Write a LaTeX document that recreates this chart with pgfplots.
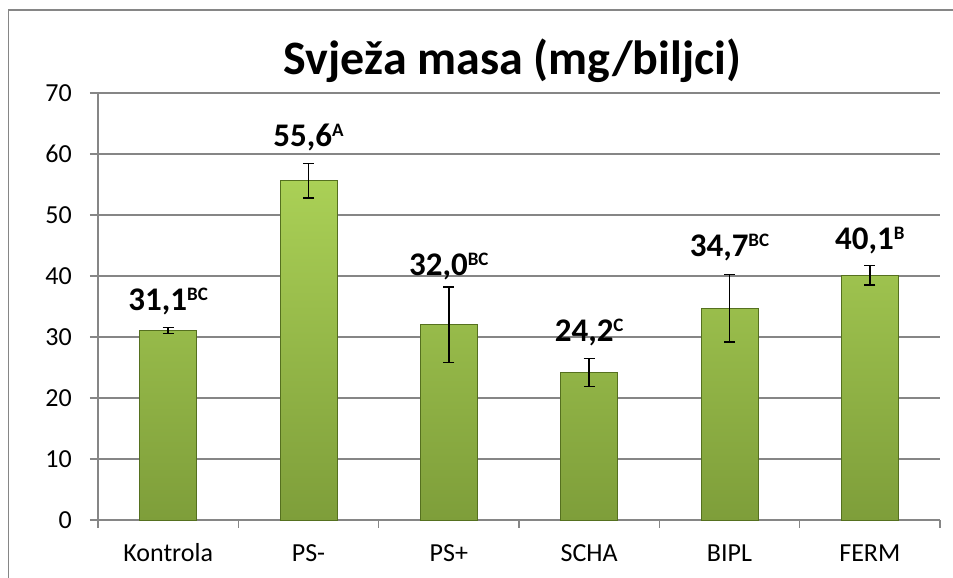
\documentclass[border=0pt]{standalone}
\usepackage{pgfplots}
\pgfplotsset{compat=1.18}
\usepackage{fontspec}
\setmainfont{Carlito}
\definecolor{gridgray}{HTML}{868686}
\definecolor{bartop}{HTML}{AAD056}
\definecolor{barbot}{HTML}{7E9E3A}
\definecolor{baredge}{HTML}{55701F}
\newcommand{\lab}[2]{\fontsize{33bp}{35bp}\selectfont\bfseries #1\raisebox{10bp}{\fontsize{19bp}{20bp}\selectfont\bfseries #2}}
\begin{document}
\begin{tikzpicture}[x=1bp,y=1bp]
\useasboundingbox (0,0) rectangle (953,578);
\draw[gridgray, line width=1.3bp] (8.5,-5) -- (8.5,568) -- (960,568);
\node[anchor=base, font=\fontsize{48bp}{52bp}\selectfont\bfseries] at (512.5,503) {Svježa masa (mg/biljci)};
\begin{axis}[
  at={(98bp,58bp)}, anchor=south west,
  width=842bp, height=427bp, scale only axis,
  xmin=-0.5, xmax=5.5, ymin=0, ymax=70,
  axis x line=bottom, axis y line=left,
  axis line style={-, gridgray, line width=1.3bp},
  ytick={0,10,...,70},
  ymajorgrids, major grid style={gridgray, line width=1.3bp},
  xtick={0,...,5},
  xticklabels={Kontrola,PS-,PS+,SCHA,BIPL,FERM},
  major x tick style={draw=none},
  minor xtick={-0.5,0.5,...,5.5},
  minor x tick style={gridgray, line width=1.3bp},
  major y tick style={gridgray, line width=1.3bp},
  tick align=outside,
  major tick length=8bp, minor tick length=8bp,
  /pgf/number format/assume math mode=true,
  tick label style={font=\fontsize{26bp}{30bp}\selectfont},
  yticklabel style={inner sep=0pt, xshift=-18bp},
  xticklabel style={anchor=base, inner sep=0pt, yshift=-34bp},
  clip=false,
]
\addplot[ybar, bar width=57bp, draw=baredge, line width=0.8bp,
  top color=bartop, bottom color=barbot,
  error bars/.cd, y dir=both, y explicit,
  error bar style={black, line width=1.4bp},
  error mark options={rotate=90, black, line width=1.4bp, mark size=5.5bp}]
coordinates {
(0,31.1) +- (0,0.5)
(1,55.6) +- (0,2.8)
(2,32.0) +- (0,6.2)
(3,24.2) +- (0,2.3)
(4,34.7) +- (0,5.5)
(5,40.1) +- (0,1.6)
};
\addplot[draw=none, mark=none, point meta=explicit symbolic,
  nodes near coords, every node near coord/.append style={anchor=base, inner sep=0pt, text=black}]
coordinates {
(0,34.3) [\lab{31,1}{BC}]
(1,61.2) [\lab{55,6}{A}]
(2,40.0) [\lab{32,0}{BC}]
(3,29.2) [\lab{24,2}{C}]
(4,43.2) [\lab{34,7}{BC}]
(5,44.4) [\lab{40,1}{B}]
};
\end{axis}
\end{tikzpicture}
\end{document}
